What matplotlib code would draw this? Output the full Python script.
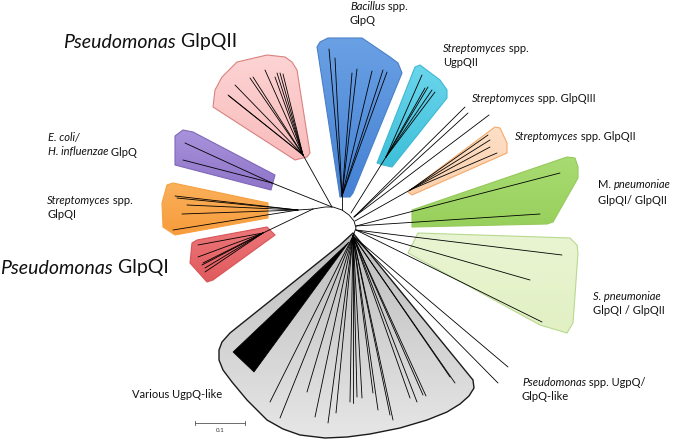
import matplotlib
matplotlib.use("Agg")
import numpy as np
import matplotlib.pyplot as plt
from matplotlib.patches import Polygon
from matplotlib.colors import LinearSegmentedColormap

plt.rcParams["font.family"] = ["Lato", "DejaVu Sans"]

# ---------------------------------------------------------------
# tree geometry (pixel units, y grows down)
# ---------------------------------------------------------------
root_arc = [(313, 209), (325, 207), (333, 207), (342, 210), (349, 215),
            (354, 221), (356, 228), (353, 236)]

pink_hull = [(213, 107), (215, 90), (222, 77), (237, 62), (267, 55), (285, 57),
             (292, 62), (297, 70), (310, 153), (307, 157), (295, 160)]
pink_base, pink_apex = (332, 207), (303, 155)
pink_tips = [(228, 95), (229, 96), (235, 85), (250, 78), (253, 77), (265, 70),
             (275, 77), (277, 73), (280, 73), (283, 74)]

purple_hull = [(175, 136), (183, 130), (193, 132), (275, 175), (271, 190), (175, 165)]
purple_base, purple_apex = (332, 207), (272, 183)
purple_tips = [(185, 143), (183, 160)]

orange_hull = [(167, 185), (173, 183), (268, 203), (268, 218), (175, 235),
               (163, 227), (162, 203)]
orange_base, orange_apex = (313, 209), (298, 210)
orange_tips = [(175, 196), (177, 198), (187, 205), (182, 214), (173, 230)]

red_hull = [(192, 243), (197, 240), (267, 227), (275, 235), (213, 280),
            (207, 282), (190, 263)]
red_base, red_apex = (313, 209), (263, 233)
red_tips = [(198, 245), (198, 257), (203, 263), (202, 265), (205, 268), (205, 272)]

blue_hull = [(317, 47), (320, 42), (328, 38), (362, 38), (390, 57), (398, 63),
             (402, 73), (353, 193), (350, 197), (340, 197), (318, 53)]
blue_base, blue_apex = (342, 210), (342, 196)
blue_tips = [(329, 49), (335, 58), (352, 73), (357, 69), (372, 71), (383, 70), (387, 72)]

cyan_hull = [(377, 163), (415, 67), (420, 65), (440, 80), (447, 90), (447, 98),
             (392, 167), (383, 165)]
cyan_base, cyan_apex = (351, 213), (386, 157)
cyan_tips = [(422, 75), (425, 88), (428, 87), (432, 90), (435, 92)]

glpqiii_base = (354, 217)
glpqiii_tips = [(465, 107), (468, 113), (489, 115)]

peach_hull = [(408, 192), (412, 195), (507, 153), (507, 143), (500, 128), (495, 127)]
peach_base, peach_apex = (355, 221), (410, 190)
peach_tips = [(488, 135), (490, 140), (490, 147), (497, 153)]

green_hull = [(412, 210), (567, 157), (575, 158), (578, 167), (578, 178),
              (553, 222), (547, 224), (412, 227)]
green_base = (356, 226)
green_tips = [(560, 173), (540, 214)]

lime_hull = [(418, 233), (570, 238), (577, 245), (578, 253), (573, 323),
             (567, 333), (540, 325), (408, 253)]
lime_base = (356, 230)
lime_tips = [(562, 255), (530, 280), (542, 322)]

ugpq_base = (353, 236)
ugpq_tips = [(508, 367), (498, 383)]

gray_hull = [(353, 233), (340, 245), (230, 333), (222, 342), (219, 350), (219, 360),
             (223, 370), (232, 382), (247, 400), (267, 420), (283, 429), (300, 435),
             (325, 438), (347, 437), (370, 434), (400, 428), (427, 420), (447, 412),
             (460, 404), (469, 396), (474, 388), (473, 380)]
gray_apex = (353, 236)
gray_wedge = [(349, 242), (233, 352), (254, 372)]
gray_tips = [(270, 402), (280, 418), (307, 392), (315, 417), (328, 423), (336, 413),
             (350, 402), (353, 403), (357, 397), (362, 398), (373, 393), (378, 410),
             (390, 415), (393, 420), (410, 398), (417, 402), (423, 395), (426, 396),
             (450, 377), (455, 383)]

# labels: (x, y, size, [(text, italic), ...])
labels = [
    (63, 42, 14, [("Pseudomonas", True), (" GlpQII", False)]),
    (0, 268, 14, [("Pseudomonas", True), (" GlpQI", False)]),
    (48, 137, 8, [("E. coli/", True)]),
    (48, 152, 8, [("H. influenzae", True), (" GlpQ", False)]),
    (47, 200, 8, [("Streptomyces", True), (" spp.", False)]),
    (47, 214, 8, [("GlpQI", False)]),
    (350, 7, 8, [("Bacillus", True), (" spp.", False)]),
    (350, 20, 8, [("GlpQ", False)]),
    (443, 49, 8, [("Streptomyces", True), (" spp.", False)]),
    (443, 63, 8, [("UgpQII", False)]),
    (472, 99, 8, [("Streptomyces", True), (" spp. GlpQIII", False)]),
    (515, 137, 8, [("Streptomyces", True), (" spp. GlpQII", False)]),
    (598, 185, 8, [("M. ", False), ("pneumoniae", True)]),
    (598, 200, 8, [("GlpQI/ GlpQII", False)]),
    (593, 297, 8, [("S. pneumoniae", True)]),
    (593, 311, 8, [("GlpQI / GlpQII", False)]),
    (522, 383, 8, [("Pseudomonas", True), (" spp. UgpQ/", False)]),
    (522, 397, 8, [("GlpQ-like", False)]),
    (132, 395, 8, [("Various UgpQ-like", False)]),
]

fig = plt.figure(figsize=(6.75, 4.4), dpi=100)
ax = fig.add_axes([0, 0, 1, 1])
ax.set_xlim(0, 675)
ax.set_ylim(440, 0)
ax.axis("off")

LW = 0.6


def branch(p, q, lw=LW):
    ax.plot([p[0], q[0]], [p[1], q[1]], color="black", lw=lw,
            solid_capstyle="round", zorder=3)


def clade(hull, top, bottom, edge, base, apex, tips, elw=0.8):
    # hull filled with a vertical gradient, clipped to the polygon
    poly = Polygon(hull, closed=True, facecolor="none", edgecolor=edge,
                   lw=elw, joinstyle="round", zorder=2)
    ax.add_patch(poly)
    xs, ys = zip(*hull)
    cmap = LinearSegmentedColormap.from_list("g", [top, bottom])
    grad = np.linspace(0, 1, 64).reshape(-1, 1)
    im = ax.imshow(grad, cmap=cmap, aspect="auto", zorder=1,
                   extent=(min(xs), max(xs), max(ys), min(ys)), origin="upper")
    im.set_clip_path(poly)
    branch(base, apex)
    for t in tips:
        branch(apex, t)


# hulls + branches
clade(pink_hull, "#fdd3d3", "#f9bcbc", "#d9827f", pink_base, pink_apex, pink_tips)
clade(purple_hull, "#a993dc", "#8f74c8", "#7f68b8", purple_base, purple_apex, purple_tips)
clade(orange_hull, "#fab05a", "#f79c3c", "#f7a040", orange_base, orange_apex, orange_tips)
clade(red_hull, "#ec7779", "#e05a5d", "#d65558", red_base, red_apex, red_tips)
clade(blue_hull, "#6aa0e4", "#4582d4", "#4a80c8", blue_base, blue_apex, blue_tips)
clade(cyan_hull, "#6bd6ec", "#3ebfd9", "#3fb8d2", cyan_base, cyan_apex, cyan_tips)
clade(peach_hull, "#fde0c8", "#fbcfaa", "#f5a868", peach_base, peach_apex, peach_tips)
clade(green_hull, "#a8db72", "#98d05c", "#96c95c", green_base, green_base, green_tips)
clade(lime_hull, "#e9f5d2", "#e2f0c4", "#b8d98f", lime_base, lime_base, lime_tips)
clade(gray_hull, "#bdbdbd", "#e6e6e6", "#1a1a1a", gray_apex, gray_apex, gray_tips, elw=1.0)
ax.add_patch(Polygon(gray_wedge, closed=True, facecolor="black", edgecolor="black",
                     lw=0.5, zorder=3))

for t in glpqiii_tips:
    branch(glpqiii_base, t)
for t in ugpq_tips:
    branch(ugpq_base, t)

xs, ys = zip(*root_arc)
ax.plot(xs, ys, color="black", lw=LW, zorder=3)

# scale bar
ax.plot([195, 245], [423, 423], color="#555555", lw=0.6)
ax.plot([195, 195], [421, 425], color="#555555", lw=0.6)
ax.plot([245, 245], [421, 425], color="#555555", lw=0.6)
ax.text(220, 431, "0.1", fontsize=4.5, ha="center", va="center", color="#333333")

ax.set_xlim(0, 675)
ax.set_ylim(440, 0)

# labels
renderer = fig.canvas.get_renderer()
for x, y, size, parts in labels:
    for txt, italic in parts:
        t = ax.text(x, y, txt, fontsize=size, style="italic" if italic else "normal",
                    ha="left", va="center", color="#111111")
        x += t.get_window_extent(renderer).width

fig.savefig("out.png", dpi=100)
